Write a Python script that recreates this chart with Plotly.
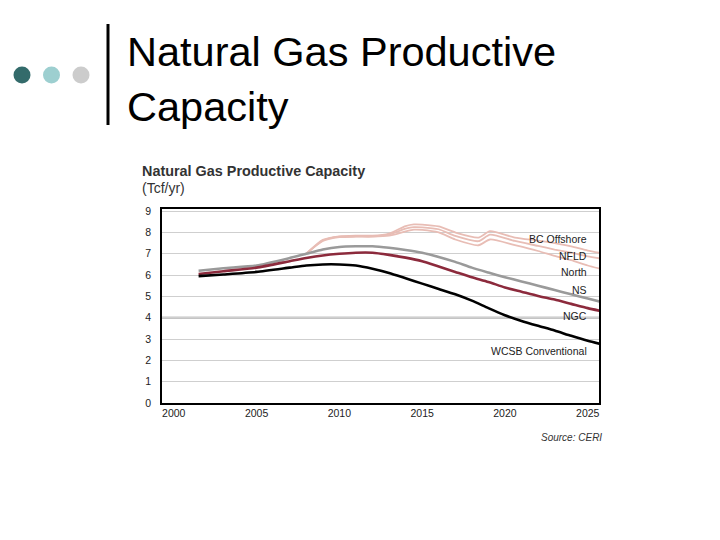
import plotly.graph_objects as go

# ---------------- data ----------------
years = [2001.5, 2003, 2005, 2007, 2008, 2009, 2010, 2011, 2012, 2013, 2014, 2015,
         2016, 2017, 2018, 2019, 2020, 2021, 2022, 2023, 2024, 2025, 2026]
wcsb = [5.95, 6.03, 6.15, 6.35, 6.45, 6.5, 6.5, 6.45, 6.3, 6.1, 5.85, 5.6,
        5.35, 5.1, 4.8, 4.45, 4.12, 3.85, 3.62, 3.4, 3.15, 2.92, 2.72]
ngc = [6.05, 6.18, 6.35, 6.65, 6.8, 6.92, 7.0, 7.05, 7.05, 6.95, 6.82, 6.65,
       6.4, 6.15, 5.9, 5.68, 5.42, 5.22, 5.02, 4.85, 4.65, 4.45, 4.28]
ns = [6.2, 6.32, 6.45, 6.8, 7.0, 7.2, 7.32, 7.35, 7.35, 7.28, 7.18, 7.05,
      6.85, 6.62, 6.35, 6.12, 5.9, 5.7, 5.5, 5.3, 5.1, 4.9, 4.7]

years_hi = [2008, 2009, 2010, 2011, 2012, 2013, 2014, 2014.5, 2015, 2016, 2017,
            2018.4, 2019.1, 2020.6, 2022, 2023, 2024, 2025, 2026]
bc_offshore = [7.0, 7.65, 7.82, 7.85, 7.85, 7.95, 8.3, 8.38, 8.37, 8.28, 8.0,
               7.76, 8.06, 7.76, 7.62, 7.5, 7.35, 7.15, 7.0]
nfld = [7.0, 7.62, 7.8, 7.82, 7.82, 7.9, 8.18, 8.25, 8.24, 8.15, 7.84,
        7.59, 7.9, 7.6, 7.37, 7.2, 7.05, 6.88, 6.75]
north = [7.0, 7.6, 7.78, 7.8, 7.8, 7.85, 8.05, 8.13, 8.12, 8.0, 7.67,
         7.4, 7.67, 7.4, 7.13, 6.9, 6.7, 6.45, 6.25]

series_labels = ["BC Offshore", "NFLD", "North", "NS", "NGC", "WCSB Conventional"]
label_y = [7.67, 6.89, 6.13, 5.32, 4.07, 2.42]

x_ticks = [2000, 2005, 2010, 2015, 2020, 2025]
y_ticks = [0, 1, 2, 3, 4, 5, 6, 7, 8, 9]

# ---------------- layout helpers ----------------
OFF = 8                      # page body margin
W, H = 720 - 2 * OFF, 540 - 2 * OFF
# plot area in page pixels
PL, PR, PT, PB = 162, 599, 209, 403


def px(x):
    return (x - PL) / (PR - PL)


def py(y):
    return (PB - y) / (PB - PT)


FONT = "Arial, Liberation Sans, sans-serif"

fig = go.Figure()

pink = "#e8bdb5"
for ys in (bc_offshore, nfld, north):
    fig.add_trace(go.Scatter(x=years_hi, y=ys, mode="lines",
                             line=dict(color=pink, width=1.8, shape="spline", smoothing=0.6),
                             hoverinfo="skip", showlegend=False))

fig.add_trace(go.Scatter(x=years, y=ns, mode="lines",
                         line=dict(color="#9a9a9a", width=2.6, shape="spline", smoothing=0.6),
                         showlegend=False))
fig.add_trace(go.Scatter(x=years, y=ngc, mode="lines",
                         line=dict(color="#8c2a3c", width=2.6, shape="spline", smoothing=0.6),
                         showlegend=False))
fig.add_trace(go.Scatter(x=years, y=wcsb, mode="lines",
                         line=dict(color="#000000", width=2.6, shape="spline", smoothing=0.6),
                         showlegend=False))

annotations = []
for lab, yv in zip(series_labels, label_y):
    annotations.append(dict(x=2025.05, y=yv, xref="x", yref="y", text=lab,
                            showarrow=False, xanchor="right", yanchor="middle",
                            font=dict(family=FONT, size=10.5, color="#222222")))

# chart title / units / source
annotations += [
    dict(x=px(140), y=py(171), xref="paper", yref="paper", text="<b>Natural Gas Productive Capacity</b>",
         showarrow=False, xanchor="left", yanchor="middle",
         font=dict(family=FONT, size=14.4, color="#333333")),
    dict(x=px(140), y=py(188), xref="paper", yref="paper", text="(Tcf/yr)",
         showarrow=False, xanchor="left", yanchor="middle",
         font=dict(family=FONT, size=14, color="#333333")),
    dict(x=px(604), y=py(437), xref="paper", yref="paper", text="<i>Source: CERI</i>",
         showarrow=False, xanchor="right", yanchor="middle",
         font=dict(family=FONT, size=10, color="#333333")),
    # slide title
    dict(x=px(125), y=py(51), xref="paper", yref="paper", text="Natural Gas Productive",
         showarrow=False, xanchor="left", yanchor="middle",
         font=dict(family=FONT, size=41.5, color="#000000")),
    dict(x=px(125), y=py(106), xref="paper", yref="paper", text="Capacity",
         showarrow=False, xanchor="left", yanchor="middle",
         font=dict(family=FONT, size=41.5, color="#000000")),
]

shapes = [
    # thicker reference line at 4
    dict(type="line", xref="paper", yref="y", x0=0, x1=1, y0=4, y1=4,
         line=dict(color="#c4c4c4", width=2.5), layer="below"),
    # slide decoration: vertical bar
    dict(type="line", xref="paper", yref="paper", x0=px(108), x1=px(108),
         y0=py(24), y1=py(125), line=dict(color="#000000", width=3)),
]
for cx, col in zip([22, 51.5, 81], ["#336b6b", "#9dcfd0", "#cccccc"]):
    shapes.append(dict(type="circle", xref="paper", yref="paper",
                       x0=px(cx - 8.5), x1=px(cx + 8.5), y0=py(75 - 8.5), y1=py(75 + 8.5),
                       fillcolor=col, line=dict(width=0)))

fig.update_layout(
    width=W, height=H,
    margin=dict(l=PL - OFF, r=W - (PR - OFF), t=PT - OFF, b=H - (PB - OFF), pad=0),
    paper_bgcolor="white", plot_bgcolor="white",
    showlegend=False,
    annotations=annotations,
    shapes=shapes,
    xaxis=dict(range=[1999.29, 2025.68], tickvals=x_ticks, ticks="",
               showgrid=False, zeroline=False,
               showline=True, linecolor="#000000", linewidth=1.5, mirror=True,
               tickfont=dict(family=FONT, size=10.5, color="#222222")),
    yaxis=dict(range=[0, 9.1], tickvals=y_ticks, ticks="",
               showgrid=True, gridcolor="#cfcfcf", gridwidth=1, zeroline=False,
               showline=True, linecolor="#000000", linewidth=1.5, mirror=True,
               ticklabelstandoff=7,
               tickfont=dict(family=FONT, size=10.5, color="#222222")),
)

fig.write_html("out.html")
